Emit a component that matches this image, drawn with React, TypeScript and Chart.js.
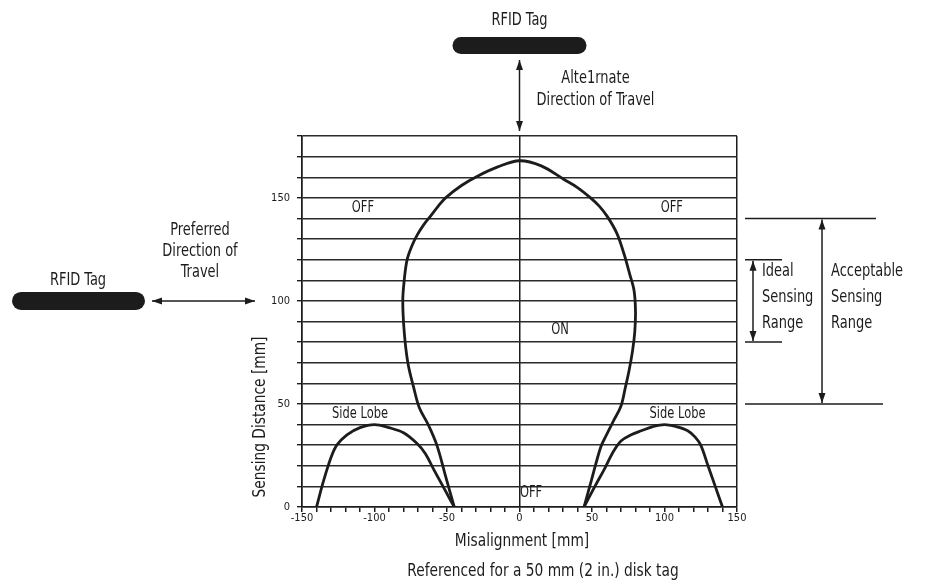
import React, { useEffect, useRef } from 'react';
import { Chart, registerables } from 'chart.js';

Chart.register(...registerables);

const FONT = '"DejaVu Sans Condensed", "DejaVu Sans", sans-serif';
const INK = '#1c1c1c';
const SX = 0.85;

// Main lobe (ON region boundary)
const mainLobeX = [-45, -51, -57, -63, -69, -73, -77, -79.5, -80.5, -79.5, -77.5, -74, -70.5, -66, -61.5, -56, -51, -40, -29, -15, 0,
  15, 30.5, 40, 49, 55, 60.5, 67, 72, 76, 79, 80, 79.5, 78, 75.5, 73, 70, 65, 60, 56, 50, 44.5];
const mainLobeY = [0, 15, 30, 40, 48, 58, 70, 85, 100, 110, 120, 127, 132, 137, 141, 146, 150, 156, 160.5, 165, 168,
  165.5, 159, 155, 150, 146, 141, 133, 123, 113, 105, 95, 85, 76, 66, 58, 49, 42, 35, 29, 14, 0];

// Side lobes
const leftLobeX = [-140, -135, -130, -126, -119, -110, -100, -90, -80, -71, -65, -59, -52, -45];
const leftLobeY = [0, 13, 24, 30, 35, 38.5, 40, 38.5, 36, 31, 26, 18, 9, 0];
const rightLobeX = [44.5, 52, 59, 64, 70, 77, 84, 92, 100, 108, 116, 121, 125, 130, 135, 140];
const rightLobeY = [0, 10, 19, 26, 32, 35, 37, 39, 40, 39, 37, 34, 30, 20, 10, 0];

const xTickLabels = [-150, -100, -50, 0, 50, 100, 150];
const yTickLabels = [0, 50, 100, 150];
const xEmphasisLines = [-150, 0, 150];

const regionLabels = ['OFF', 'OFF', 'ON', 'OFF', 'Side Lobe', 'Side Lobe'];
const regionLabelX = [-108, 105, 28, 8, -110, 109];
const regionLabelY = [145, 145, 86, 6.5, 45, 45];

const acceptableRange = [50, 140];
const idealRange = [80, 120];

const topTagLines = ['Alte1rnate', 'Direction of Travel'];
const leftTagLines = ['Preferred', 'Direction of', 'Travel'];
const idealLines = ['Ideal', 'Sensing', 'Range'];
const acceptableLines = ['Acceptable', 'Sensing', 'Range'];

function toPoints(xs: number[], ys: number[]) {
  return xs.map((x, i) => ({ x, y: ys[i] }));
}

function text(ctx: CanvasRenderingContext2D, s: string, x: number, y: number, align: CanvasTextAlign = 'center', rot = 0) {
  ctx.save();
  ctx.translate(x, y);
  if (rot) ctx.rotate(rot);
  ctx.scale(SX, 1);
  ctx.textAlign = align;
  ctx.fillText(s, 0, 0);
  ctx.restore();
}

function arrowHead(ctx: CanvasRenderingContext2D, x: number, y: number, dx: number, dy: number) {
  const len = 10, w = 3.5;
  const ang = Math.atan2(dy, dx);
  ctx.beginPath();
  ctx.moveTo(x, y);
  ctx.lineTo(x - len * Math.cos(ang) + w * Math.sin(ang), y - len * Math.sin(ang) - w * Math.cos(ang));
  ctx.lineTo(x - len * Math.cos(ang) - w * Math.sin(ang), y - len * Math.sin(ang) + w * Math.cos(ang));
  ctx.closePath();
  ctx.fill();
}

function doubleArrow(ctx: CanvasRenderingContext2D, x1: number, y1: number, x2: number, y2: number) {
  ctx.beginPath();
  ctx.moveTo(x1, y1);
  ctx.lineTo(x2, y2);
  ctx.stroke();
  arrowHead(ctx, x2, y2, x2 - x1, y2 - y1);
  arrowHead(ctx, x1, y1, x1 - x2, y1 - y2);
}

function pill(ctx: CanvasRenderingContext2D, x1: number, y1: number, x2: number, y2: number) {
  const r = (y2 - y1) / 2;
  ctx.beginPath();
  ctx.moveTo(x1 + r, y1);
  ctx.lineTo(x2 - r, y1);
  ctx.arc(x2 - r, y1 + r, r, -Math.PI / 2, Math.PI / 2);
  ctx.lineTo(x1 + r, y2);
  ctx.arc(x1 + r, y1 + r, r, Math.PI / 2, Math.PI * 1.5);
  ctx.closePath();
  ctx.fill();
}

function hline(ctx: CanvasRenderingContext2D, x1: number, x2: number, y: number) {
  ctx.beginPath();
  ctx.moveTo(x1, y);
  ctx.lineTo(x2, y);
  ctx.stroke();
}

const annotationPlugin = {
  id: 'annotations',
  afterDraw(chart: any) {
    const ctx: CanvasRenderingContext2D = chart.ctx;
    const xs = chart.scales.x;
    const ys = chart.scales.y;
    const area = chart.chartArea;
    ctx.save();
    ctx.fillStyle = INK;
    ctx.strokeStyle = INK;
    ctx.lineWidth = 1.5;

    // Region labels inside the plot
    ctx.font = `15px ${FONT}`;
    ctx.textBaseline = 'middle';
    regionLabels.forEach((t, i) => {
      text(ctx, t, xs.getPixelForValue(regionLabelX[i]), ys.getPixelForValue(regionLabelY[i]));
    });

    ctx.textBaseline = 'alphabetic';
    ctx.font = `17px ${FONT}`;

    // Top tag and alternate direction
    const x0 = xs.getPixelForValue(0);
    text(ctx, 'RFID Tag', x0, 25);
    pill(ctx, x0 - 67, 37, x0 + 67, 54);
    doubleArrow(ctx, x0, 60, x0, area.top - 5);
    topTagLines.forEach((t, i) => text(ctx, t, x0 + 76, 83 + i * 22));

    // Left tag and preferred direction
    const y100 = ys.getPixelForValue(100);
    text(ctx, 'RFID Tag', 78, y100 - 16);
    pill(ctx, 12, y100 - 9, 145, y100 + 9);
    doubleArrow(ctx, 152, y100, 255, y100);
    leftTagLines.forEach((t, i) => text(ctx, t, 200, y100 - 66 + i * 21));

    // Acceptable range
    const yA1 = ys.getPixelForValue(acceptableRange[1]);
    const yA0 = ys.getPixelForValue(acceptableRange[0]);
    hline(ctx, 745, 876, yA1);
    hline(ctx, 745, 883, yA0);
    doubleArrow(ctx, 822, yA1 + 1, 822, yA0 - 1);

    // Ideal range
    const yI1 = ys.getPixelForValue(idealRange[1]);
    const yI0 = ys.getPixelForValue(idealRange[0]);
    hline(ctx, 745, 782, yI1);
    hline(ctx, 745, 782, yI0);
    doubleArrow(ctx, 753, yI1 + 1, 753, yI0 - 1);

    idealLines.forEach((t, i) => text(ctx, t, 762, y100 - 25 + i * 26, 'left'));
    acceptableLines.forEach((t, i) => text(ctx, t, 831, y100 - 25 + i * 26, 'left'));

    // Axis titles
    ctx.font = `18px ${FONT}`;
    text(ctx, 'Misalignment [mm]', 522, 546);
    text(ctx, 'Referenced for a 50 mm (2 in.) disk tag', 543, 576);

    ctx.textBaseline = 'middle';
    text(ctx, 'Sensing Distance [mm]', 260, 417, 'center', -Math.PI / 2);

    ctx.restore();
  },
};

export default function App() {
  const ref = useRef<HTMLCanvasElement>(null);

  useEffect(() => {
    if (!ref.current) return;
    const lineStyle = {
      showLine: true,
      pointRadius: 0,
      borderColor: INK,
      borderWidth: 2.8,
      tension: 0.35,
      fill: false,
    };
    const chart = new Chart(ref.current, {
      type: 'scatter',
      data: {
        datasets: [
          { ...lineStyle, label: 'Main lobe', data: toPoints(mainLobeX, mainLobeY) },
          { ...lineStyle, label: 'Left side lobe', data: toPoints(leftLobeX, leftLobeY) },
          { ...lineStyle, label: 'Right side lobe', data: toPoints(rightLobeX, rightLobeY) },
        ],
      },
      options: {
        responsive: false,
        animation: false,
        events: [],
        layout: { padding: { left: 252, right: 188, top: 136, bottom: 48 } },
        plugins: { legend: { display: false }, tooltip: { enabled: false } },
        scales: {
          x: {
            type: 'linear',
            min: -150,
            max: 150,
            afterFit: (s: any) => { s.height = 30; },
            border: { color: INK, width: 1.5 },
            grid: {
              color: (c: any) => (c.tick && xEmphasisLines.includes(c.tick.value) ? INK : 'rgba(0,0,0,0)'),
              tickColor: INK,
              lineWidth: 1.5,
              tickLength: 5,
            },
            ticks: {
              stepSize: 10,
              autoSkip: false,
              maxRotation: 0,
              padding: 0,
              color: INK,
              font: { family: FONT, size: 11 },
              callback: (v: any) => (xTickLabels.includes(Number(v)) ? String(v) : ''),
            },
          },
          y: {
            type: 'linear',
            min: 0,
            max: 180,
            afterFit: (s: any) => { s.width = 50; },
            border: { color: INK, width: 1.5 },
            grid: {
              color: '#2a2a2a',
              tickColor: INK,
              lineWidth: 1.4,
              tickLength: 5,
            },
            ticks: {
              stepSize: 10,
              autoSkip: false,
              padding: 7,
              color: INK,
              font: { family: FONT, size: 11 },
              callback: (v: any) => (yTickLabels.includes(Number(v)) ? String(v) : ''),
            },
          },
        },
      },
      plugins: [annotationPlugin],
    });
    return () => chart.destroy();
  }, []);

  return (
    <div style={{ position: 'absolute', left: 0, top: 0, width: 925, height: 585, background: '#fff' }}>
      <canvas ref={ref} width={925} height={585} />
    </div>
  );
}
